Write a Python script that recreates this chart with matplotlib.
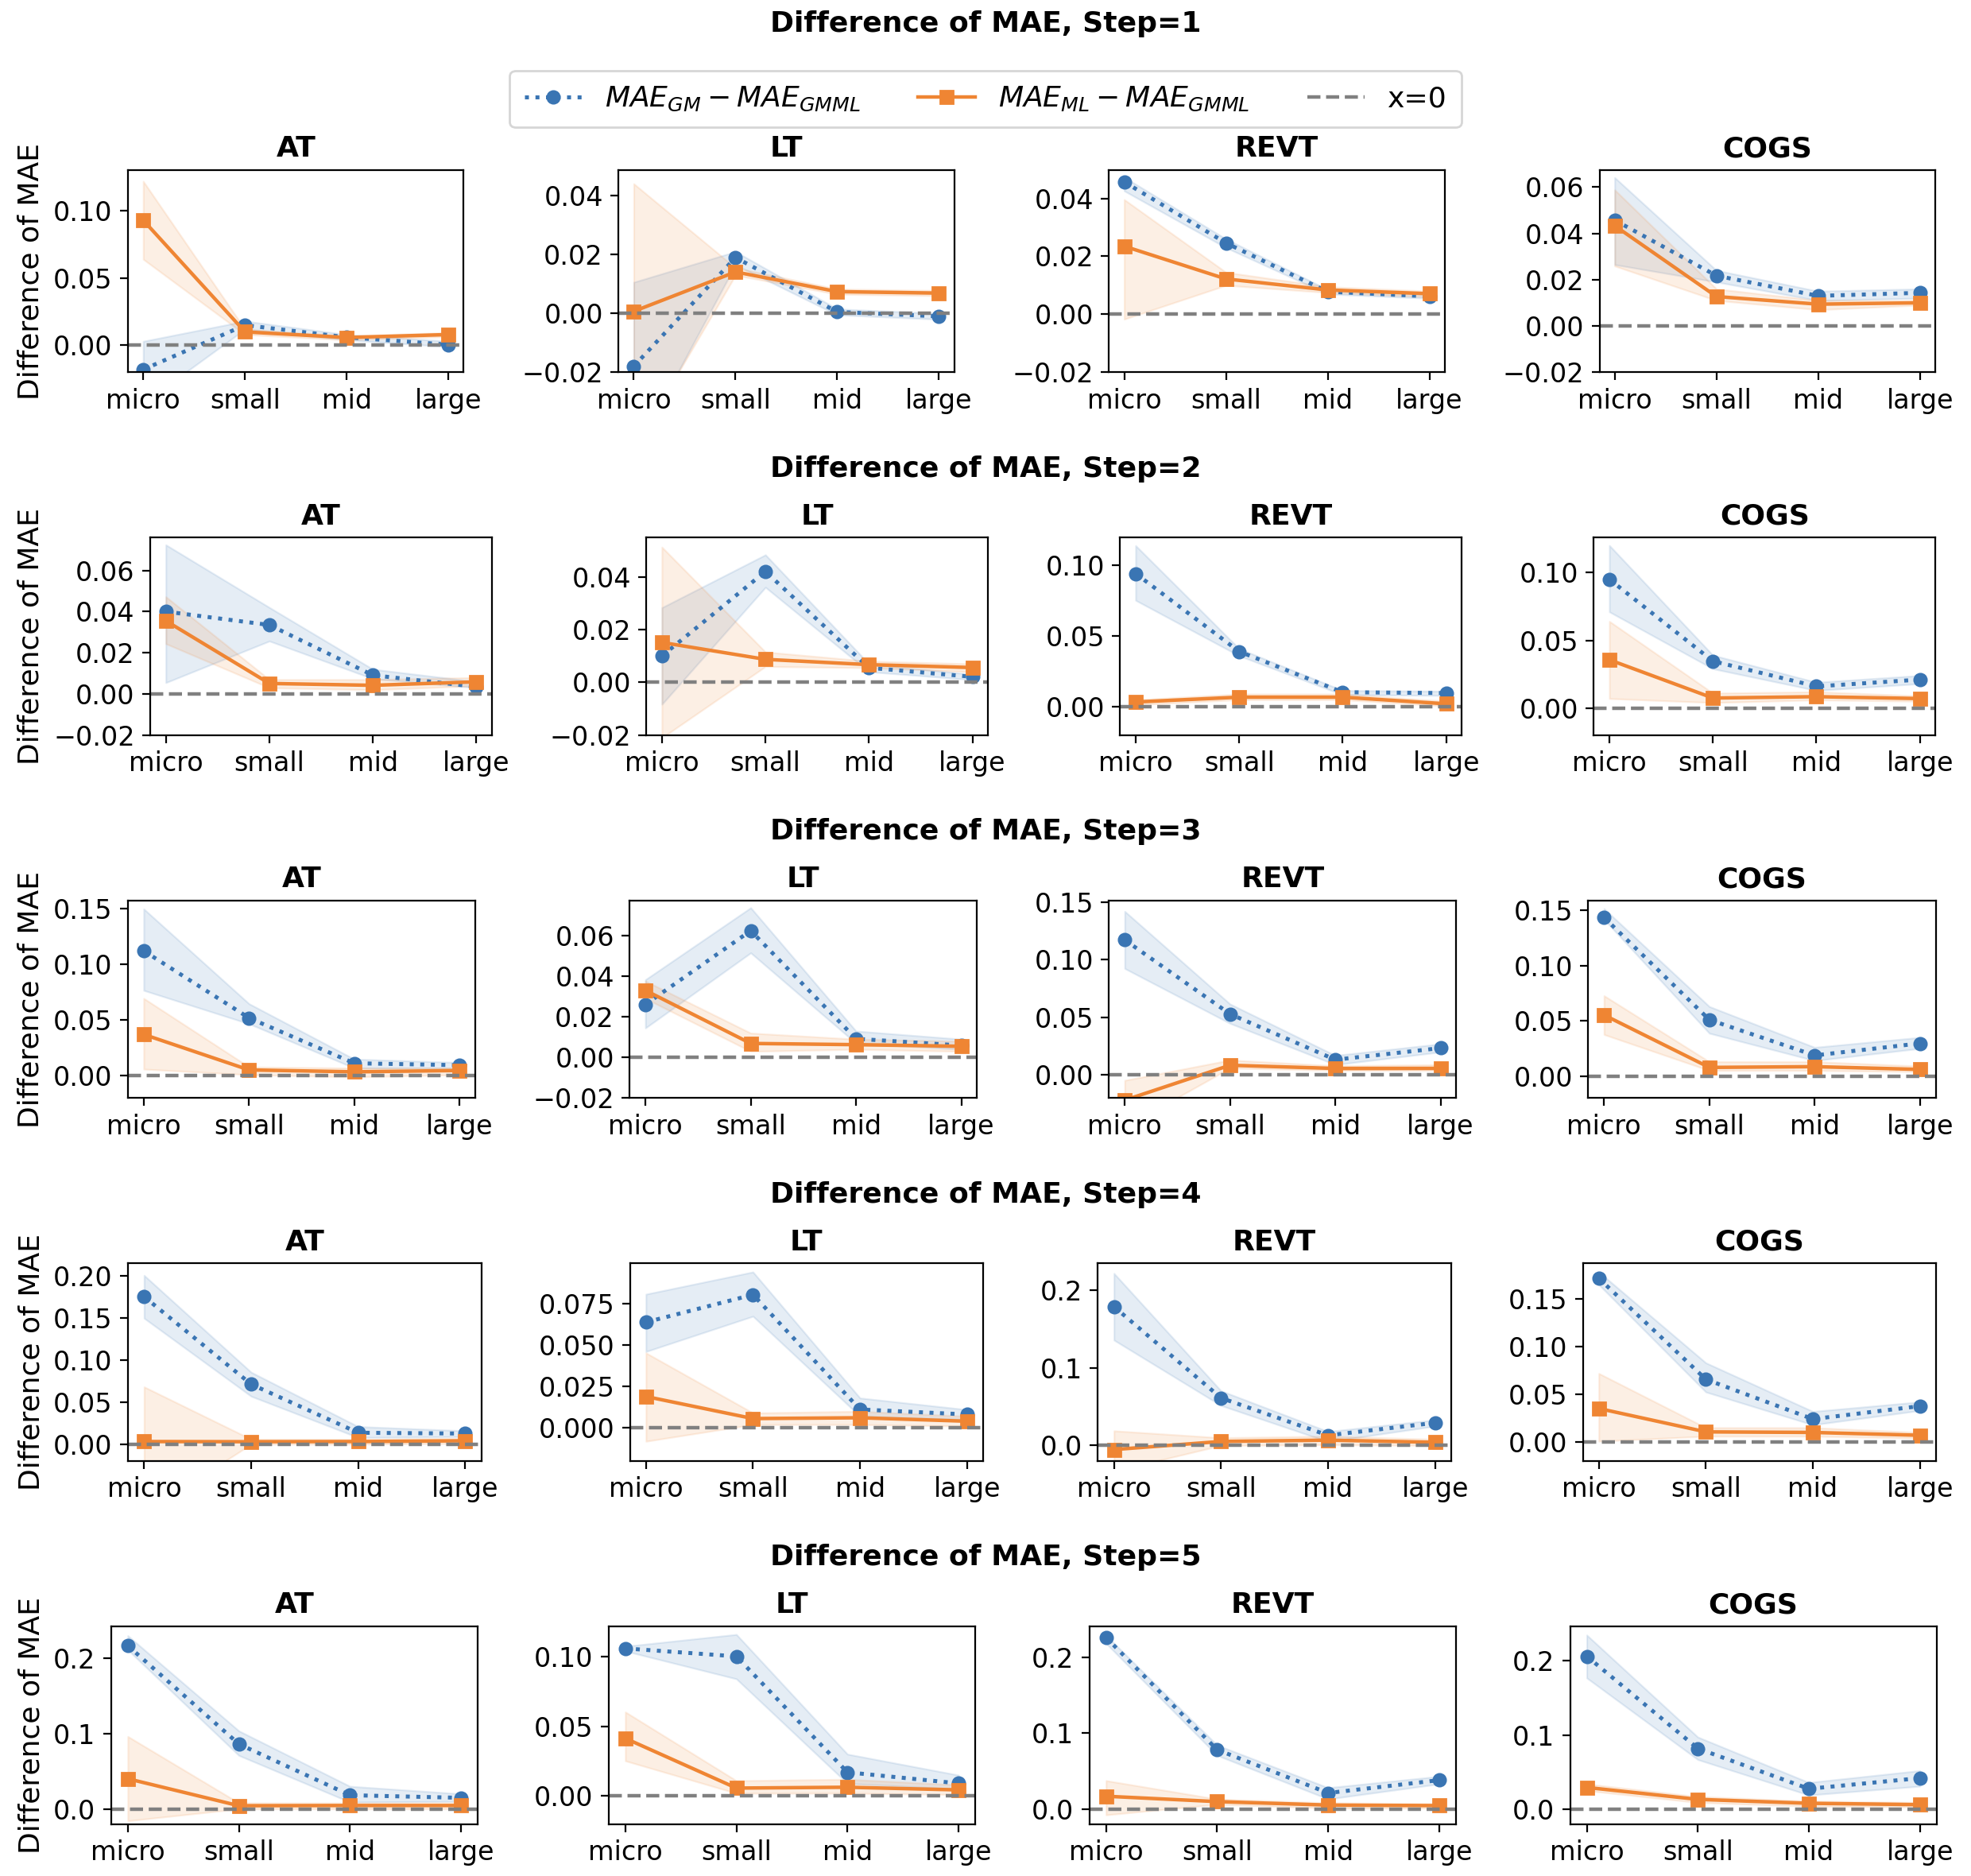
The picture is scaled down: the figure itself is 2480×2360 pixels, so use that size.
import matplotlib
matplotlib.use('Agg')
from matplotlib import pyplot as plt
from matplotlib.lines import Line2D
from matplotlib.ticker import MaxNLocator
import numpy as np

font = {'family': 'DejaVu Sans', 'size': 12}
matplotlib.rc('font', **font)

sizes = ['micro', 'small', 'mid', 'large']
variables = ['AT', 'LT', 'REVT', 'COGS']
steps = [1, 2, 3, 4, 5]

# each row is one step, each inner list one variable (AT, LT, REVT, COGS)
gm_mean = [
    [[-0.018, 0.015, 0.006, 0.0005], [-0.018, 0.019, 0.0005, -0.001], [0.0457, 0.0246, 0.0078, 0.0062], [0.0457, 0.0217, 0.013, 0.0143]],
    [[0.040, 0.0335, 0.0091, 0.0035], [0.010, 0.042, 0.0055, 0.0021], [0.094, 0.039, 0.0103, 0.0097], [0.095, 0.0346, 0.016, 0.021]],
    [[0.1123, 0.052, 0.0113, 0.0096], [0.0261, 0.0624, 0.0092, 0.0059], [0.1172, 0.0529, 0.0133, 0.0234], [0.1437, 0.051, 0.0187, 0.0296]],
    [[0.1756, 0.0714, 0.0137, 0.0127], [0.0637, 0.0803, 0.0111, 0.0081], [0.1787, 0.0612, 0.0131, 0.0292], [0.1716, 0.0657, 0.024, 0.0376]],
    [[0.2165, 0.086, 0.0182, 0.0147], [0.1057, 0.100, 0.017, 0.0091], [0.2267, 0.0783, 0.021, 0.038], [0.2064, 0.0819, 0.0275, 0.0419]],
]
gm_lo = [
    [[-0.043, 0.012, 0.004, -0.001], [-0.048, 0.0165, -0.0005, -0.002], [0.0426, 0.023, 0.007, 0.0055], [0.0265, 0.019, 0.011, 0.012]],
    [[0.0055, 0.0257, 0.0074, 0.003], [-0.0083, 0.036, 0.004, 0.001], [0.0751, 0.036, 0.0085, 0.008], [0.071, 0.029, 0.013, 0.018]],
    [[0.0768, 0.0468, 0.007, 0.007], [0.0145, 0.0515, 0.007, 0.004], [0.0924, 0.0448, 0.009, 0.020], [0.142, 0.0388, 0.014, 0.025]],
    [[0.150, 0.0571, 0.008, 0.009], [0.046, 0.0673, 0.007, 0.005], [0.1357, 0.0515, 0.005, 0.025], [0.165, 0.0524, 0.018, 0.033]],
    [[0.211, 0.0709, 0.009, 0.010], [0.1038, 0.0839, 0.009, 0.005], [0.219, 0.0708, 0.013, 0.033], [0.1771, 0.0669, 0.019, 0.031]],
]
gm_hi = [
    [[0.003, 0.018, 0.008, 0.003], [0.0106, 0.021, 0.0015, 0.0], [0.0473, 0.026, 0.0085, 0.007], [0.0641, 0.024, 0.015, 0.016]],
    [[0.0724, 0.042, 0.012, 0.006], [0.0283, 0.0483, 0.007, 0.003], [0.1137, 0.041, 0.0115, 0.011], [0.120, 0.039, 0.019, 0.024]],
    [[0.150, 0.0648, 0.015, 0.012], [0.0383, 0.0737, 0.013, 0.009], [0.142, 0.0616, 0.017, 0.027], [0.1517, 0.063, 0.026, 0.035]],
    [[0.201, 0.0857, 0.021, 0.016], [0.0806, 0.094, 0.018, 0.011], [0.2216, 0.0704, 0.018, 0.033], [0.1783, 0.083, 0.032, 0.042]],
    [[0.2298, 0.1035, 0.030, 0.020], [0.1072, 0.1157, 0.030, 0.015], [0.2295, 0.0843, 0.028, 0.043], [0.235, 0.0973, 0.036, 0.052]],
]
ml_mean = [
    [[0.093, 0.010, 0.0058, 0.008], [0.0007, 0.0141, 0.0074, 0.0069], [0.0235, 0.0122, 0.0084, 0.0071], [0.0433, 0.0127, 0.0094, 0.010]],
    [[0.0355, 0.0051, 0.0042, 0.0059], [0.0151, 0.0087, 0.0067, 0.0056], [0.0034, 0.0068, 0.0068, 0.0021], [0.0356, 0.0074, 0.0084, 0.007]],
    [[0.0372, 0.0053, 0.0036, 0.0048], [0.033, 0.0069, 0.0063, 0.0055], [-0.0218, 0.0085, 0.0057, 0.0058], [0.0553, 0.0078, 0.0085, 0.006]],
    [[0.0032, 0.003, 0.0032, 0.0041], [0.0189, 0.0056, 0.0061, 0.004], [-0.0052, 0.0052, 0.0069, 0.0041], [0.0351, 0.0106, 0.010, 0.007]],
    [[0.040, 0.0042, 0.0045, 0.0045], [0.0413, 0.0057, 0.0063, 0.0044], [0.0167, 0.0096, 0.005, 0.0043], [0.0293, 0.0132, 0.0079, 0.0061]],
]
ml_lo = [
    [[0.064, 0.008, 0.004, 0.0065], [-0.046, 0.013, 0.0065, 0.006], [-0.0017, 0.010, 0.0075, 0.006], [0.0259, 0.011, 0.007, 0.009]],
    [[0.0244, 0.003, 0.002, 0.004], [-0.021, 0.006, 0.0055, 0.004], [0.0015, 0.005, 0.005, 0.0005], [0.007, 0.004, 0.006, 0.005]],
    [[0.006, 0.001, -0.001, 0.001], [0.029, 0.003, 0.004, 0.003], [-0.045, 0.006, 0.004, 0.004], [0.0376, 0.005, 0.005, 0.004]],
    [[-0.082, 0.0, 0.0, 0.001], [-0.0081, 0.002, 0.002, 0.001], [-0.033, 0.0, 0.001, 0.0], [0.0008, 0.006, 0.006, 0.004]],
    [[-0.0158, 0.0, 0.0, 0.0], [0.0252, 0.002, 0.002, 0.001], [-0.008, 0.006, 0.001, 0.001], [0.025, 0.009, 0.004, 0.003]],
]
ml_hi = [
    [[0.122, 0.012, 0.007, 0.0095], [0.0441, 0.0155, 0.0083, 0.0078], [0.0396, 0.0145, 0.0095, 0.008], [0.0588, 0.016, 0.011, 0.011]],
    [[0.0472, 0.007, 0.007, 0.008], [0.0512, 0.0115, 0.008, 0.007], [0.005, 0.009, 0.009, 0.004], [0.064, 0.011, 0.012, 0.009]],
    [[0.0696, 0.008, 0.007, 0.007], [0.0376, 0.012, 0.009, 0.008], [-0.0046, 0.013, 0.008, 0.009], [0.0728, 0.013, 0.013, 0.009]],
    [[0.0683, 0.006, 0.006, 0.007], [0.0452, 0.009, 0.010, 0.007], [0.0189, 0.010, 0.012, 0.008], [0.0719, 0.015, 0.015, 0.010]],
    [[0.0961, 0.008, 0.008, 0.008], [0.0602, 0.011, 0.012, 0.008], [0.0374, 0.013, 0.008, 0.007], [0.034, 0.017, 0.011, 0.009]],
]

c_gm = '#3a75b3'
c_ml = '#ef8533'
lab_gm = r'$MAE_{GM} - MAE_{GMML}$'
lab_ml = r'$MAE_{ML} - MAE_{GMML}$'

fig = plt.figure(figsize=(12.4, 11.8), dpi=200, layout='constrained')
fig.get_layout_engine().set(w_pad=0.11, h_pad=0.065, wspace=0.08, hspace=0.055)
subfigs = fig.subfigures(5, 1, height_ratios=[1.1, 1, 1, 1, 1])

x = np.arange(len(sizes))
for s, sf in enumerate(subfigs):
    axes = sf.subplots(1, 4)
    for v, ax in enumerate(axes):
        ax.fill_between(x, gm_lo[s][v], gm_hi[s][v], color=c_gm, alpha=0.13, lw=0.8)
        ax.plot(x, gm_mean[s][v], ':', color=c_gm, marker='o', ms=5.5, lw=1.8, label=lab_gm)
        ax.fill_between(x, ml_lo[s][v], ml_hi[s][v], color=c_ml, alpha=0.13, lw=0.8)
        ax.plot(x, ml_mean[s][v], '-', color=c_ml, marker='s', ms=5.5, lw=1.6, label=lab_ml)
        ax.axhline(0, ls='--', color='gray', lw=1.6, label='x=0')
        ax.set_ylim(bottom=-0.02)
        ax.yaxis.set_major_locator(MaxNLocator(nbins=5, steps=[1, 2, 2.5, 5, 10]))
        ax.set_xticks(x)
        ax.set_xticklabels(sizes)
        ax.set_title(variables[v], fontweight='bold', fontsize=13)
        if v == 0:
            ax.set_ylabel('Difference of MAE', fontsize=13)
    title = 'Difference of MAE, Step=%d' % steps[s]
    if s == 0:
        # first title sits above the shared legend
        fig.suptitle(title, fontweight='bold', fontsize=13)
        handles = [Line2D([], [], ls=':', color=c_gm, marker='o', ms=5.5, lw=1.8),
                   Line2D([], [], ls='-', color=c_ml, marker='s', ms=5.5, lw=1.6),
                   Line2D([], [], ls='--', color='gray', lw=1.6)]
        sf.legend(handles, [lab_gm, lab_ml, 'x=0'], loc='outside upper center',
                  ncol=3, fontsize=13, columnspacing=2.0, borderpad=0.5,
                  borderaxespad=0.8)
    else:
        sf.suptitle(title, fontweight='bold', fontsize=13)

plt.savefig('out.png', dpi=200)
